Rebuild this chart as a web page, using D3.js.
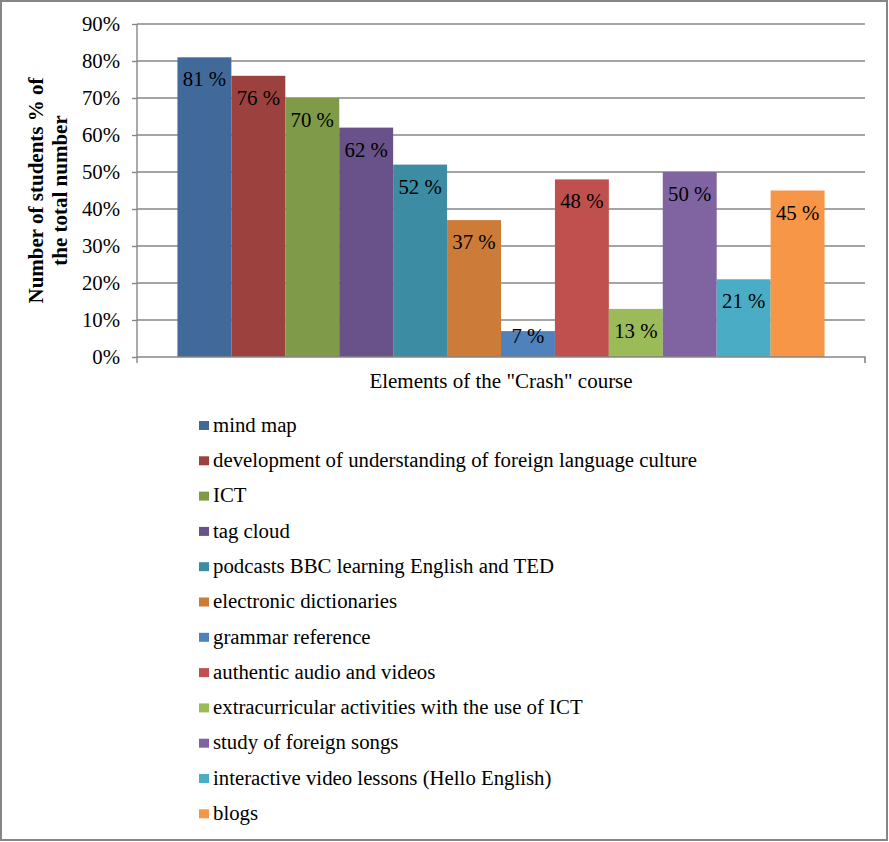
<!DOCTYPE html>
<html>
<head>
<meta charset="utf-8">
<script src="https://cdn.jsdelivr.net/npm/d3@7"></script>
<style>
html,body{margin:0;padding:0;background:#fff;}
svg{display:block;}
</style>
</head>
<body>
<svg id="chart" width="889" height="842" font-family="Liberation Serif, Times New Roman, serif"></svg>
<script>
const categories = [
  "mind map",
  "development of understanding of foreign language culture",
  "ICT",
  "tag cloud",
  "podcasts BBC learning English and TED",
  "electronic dictionaries",
  "grammar reference",
  "authentic audio and videos",
  "extracurricular activities with the use of ICT",
  "study of foreign songs",
  "interactive video lessons (Hello English)",
  "blogs"
];
const values = [81, 76, 70, 62, 52, 37, 7, 48, 13, 50, 21, 45];
const colors = ["#416A9B","#9D413F","#7F9A48","#69518A","#3C8DA3","#CC7B38",
                "#4F81BD","#C0504D","#9BBB59","#8064A2","#4BACC6","#F79646"];
const yTicks = [0, 10, 20, 30, 40, 50, 60, 70, 80, 90];
const groupLabel = ["Elements of the \"Crash\" course"];
const yTitle = ["Number of students % of", "the total number"];

const FONT = "Liberation Serif, Times New Roman, serif";
const FS = 20.8;
const svg = d3.select("#chart");
const W = 889, H = 842;

// outer border
svg.append("rect").attr("x", 1).attr("y", 1).attr("width", W - 3).attr("height", H - 3)
  .attr("fill", "#fff").attr("stroke", "#868686").attr("stroke-width", 2);

const plot = {left: 137, right: 865, top: 24, bottom: 357};

const y = d3.scaleLinear().domain([0, 90]).range([plot.bottom, plot.top]);
const xGroup = d3.scaleBand().domain(groupLabel).range([plot.left, plot.right])
  .paddingInner(0).paddingOuter(0.0625);
const xSeries = d3.scaleBand().domain(categories)
  .range([0, xGroup.bandwidth()]).padding(0);

const gridColor = "#868686";

// gridlines
svg.append("g").selectAll("line").data(yTicks.filter(d => d > 0)).join("line")
  .attr("x1", plot.left).attr("x2", plot.right)
  .attr("y1", d => y(d)).attr("y2", d => y(d))
  .attr("stroke", gridColor).attr("stroke-width", 1.4);

// y axis
const yAxis = d3.axisLeft(y).tickValues(yTicks).tickSize(5).tickPadding(12)
  .tickFormat(d => d + "%");
const gy = svg.append("g").attr("transform", `translate(${plot.left},0)`).call(yAxis)
  .attr("font-family", FONT).attr("font-size", FS);
gy.select(".domain").attr("stroke", gridColor).attr("stroke-width", 1.4)
  .attr("d", `M0,${plot.top}V${plot.bottom + 6}`);
gy.selectAll(".tick line").attr("stroke", gridColor).attr("stroke-width", 1.4);
gy.selectAll(".tick text").attr("font-size", FS)
  .attr("font-family", FONT).attr("fill", "#000");

// bars
const bars = svg.append("g").attr("transform", `translate(${xGroup(groupLabel[0])},0)`);
bars.selectAll("rect").data(values).join("rect")
  .attr("x", (d, i) => xSeries(categories[i]))
  .attr("width", xSeries.bandwidth())
  .attr("y", d => y(d))
  .attr("height", d => y(0) - y(d))
  .attr("fill", (d, i) => colors[i]);

// x axis (bottom)
const xAxis = d3.axisBottom(xGroup).tickValues([]).tickSizeOuter(5);
const gx = svg.append("g").attr("transform", `translate(0,${plot.bottom})`).call(xAxis);
gx.select(".domain").attr("stroke", gridColor).attr("stroke-width", 1.6)
  .attr("d", `M${plot.left},0H${plot.right}V6`);

// value labels
bars.selectAll("text").data(values).join("text")
  .attr("x", (d, i) => xSeries(categories[i]) + xSeries.bandwidth() / 2)
  .attr("y", d => Math.min(y(d) + 29, y(0) - 14))
  .attr("text-anchor", "middle")
  .attr("font-family", FONT)
  .attr("font-size", FS)
  .attr("fill", "#000")
  .text(d => d + " %");

// x axis title
svg.append("text").attr("x", 501).attr("y", 388).attr("text-anchor", "middle")
  .attr("font-family", FONT).attr("font-size", 21).attr("fill", "#000")
  .text(groupLabel[0]);

// y axis title
const yt = svg.append("text").attr("transform", "translate(43,190.5) rotate(-90)")
  .attr("text-anchor", "middle").attr("font-size", 21).attr("font-weight", "bold")
  .attr("font-family", FONT).attr("fill", "#000");
yt.selectAll("tspan").data(yTitle).join("tspan")
  .attr("x", 0).attr("dy", (d, i) => i === 0 ? 0 : 23.5).text(d => d);

// legend
const legend = svg.append("g").attr("transform", "translate(199,421)");
const rowH = 35.3;
const items = legend.selectAll("g").data(categories).join("g")
  .attr("transform", (d, i) => `translate(0,${i * rowH})`);
items.append("rect").attr("width", 10).attr("height", 9)
  .attr("fill", (d, i) => colors[i]);
items.append("text").attr("x", 14).attr("y", 10.7)
  .attr("font-family", FONT).attr("font-size", FS).attr("fill", "#000")
  .text(d => d);
</script>
</body>
</html>
